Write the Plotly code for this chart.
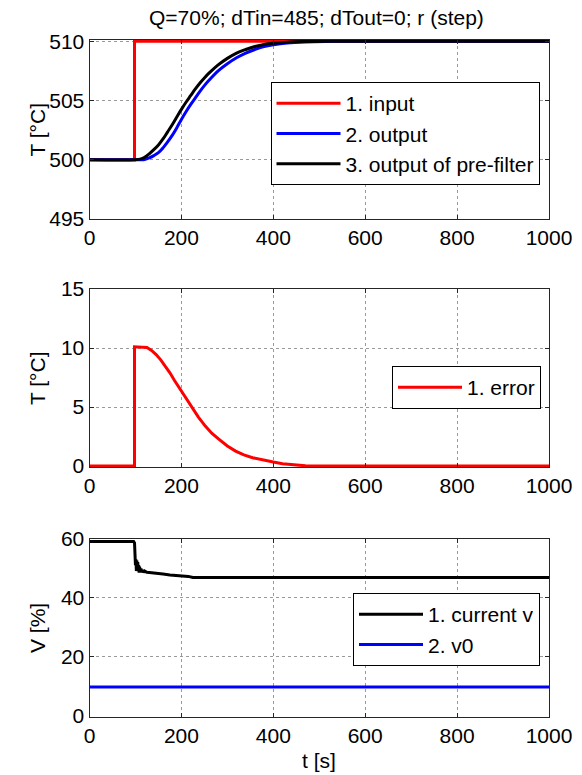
import plotly.graph_objects as go

# ---------------- data ----------------
t_input = [0, 97.9, 98, 1000]
T_input = [500, 500, 510, 510]

t_out = [0, 110, 120, 130, 140, 150, 160, 170, 180, 190, 200, 210, 220, 230, 240, 250, 260,
         280, 300, 320, 340, 360, 380, 400, 430, 470, 520, 600, 1000]
T_out = [500, 500, 500.02, 500.15, 500.35, 500.6, 501.0, 501.5, 502.05, 502.7, 503.4, 504.05,
         504.65, 505.2, 505.75, 506.25, 506.7, 507.5, 508.1, 508.6, 509.0, 509.3, 509.55, 509.7,
         509.85, 509.94, 509.98, 510, 510]

t_pre = [0, 100, 110, 120, 130, 140, 150, 160, 170, 180, 190, 200, 210, 220, 230, 240, 250,
         260, 280, 300, 320, 340, 360, 380, 400, 430, 470, 520, 1000]
T_pre = [500, 500, 500.05, 500.2, 500.5, 500.85, 501.25, 501.75, 502.35, 502.95, 503.6, 504.25,
         504.85, 505.4, 505.95, 506.45, 506.9, 507.3, 508.0, 508.55, 509.0, 509.3, 509.55, 509.72,
         509.82, 509.92, 509.97, 510, 510]

t_err = [0, 97.9, 98, 110, 125, 135, 145, 155, 165, 175, 185, 200, 212, 223, 237, 252, 266,
         282, 300, 318, 336, 355, 378, 400, 420, 442, 470, 1000]
e_err = [0, 0, 10.1, 10.1, 10.05, 9.8, 9.45, 9.0, 8.47, 7.9, 7.25, 6.36, 5.6, 4.95, 4.15, 3.39,
         2.78, 2.26, 1.7, 1.27, 0.95, 0.71, 0.5, 0.34, 0.2, 0.1, 0.02, 0]

t_v = [0, 96, 98, 99, 100, 101, 102, 103, 104, 105, 106, 107, 108, 109, 110, 112, 114, 116, 118,
       120, 125, 130, 140, 150, 160, 175, 190, 205, 215, 225, 1000]
v_cur = [59, 59, 58.5, 56, 51, 53, 49, 52.5, 49.5, 52, 49, 51, 48.5, 50.5, 48.8, 49.8, 48.6, 49.4,
         48.5, 49, 48.6, 48.5, 48.4, 48.2, 48.0, 47.7, 47.5, 47.4, 47.2, 46.8, 46.8]

t_v0 = [0, 1000]
v0 = [9.8, 9.8]

title_text = "Q=70%; dTin=485; dTout=0; r (step)"
x_ticks = [0, 200, 400, 600, 800, 1000]

# ---------------- figure ----------------
W, H = 582, 775
FONT = "Liberation Sans, Arial, sans-serif"
FS = 21

fig = go.Figure()
fig.add_trace(go.Scatter(x=t_input, y=T_input, mode="lines", name="1. input",
                         line=dict(color="#ff0000", width=3), xaxis="x", yaxis="y", legend="legend"))
fig.add_trace(go.Scatter(x=t_out, y=T_out, mode="lines", name="2. output", line_shape="spline",
                         line=dict(color="#0000ff", width=3), xaxis="x", yaxis="y", legend="legend"))
fig.add_trace(go.Scatter(x=t_pre, y=T_pre, mode="lines", name="3. output of pre-filter", line_shape="spline",
                         line=dict(color="#000000", width=3), xaxis="x", yaxis="y", legend="legend"))
fig.add_trace(go.Scatter(x=t_err, y=e_err, mode="lines", name="1. error",
                         line=dict(color="#ff0000", width=3), xaxis="x2", yaxis="y2", legend="legend2"))
fig.add_trace(go.Scatter(x=t_v, y=v_cur, mode="lines", name="1. current v",
                         line=dict(color="#000000", width=3), xaxis="x3", yaxis="y3", legend="legend3"))
fig.add_trace(go.Scatter(x=t_v0, y=v0, mode="lines", name="2. v0",
                         line=dict(color="#0000ff", width=3), xaxis="x3", yaxis="y3", legend="legend3"))

xdom = [89.5 / W, 549 / W]


def ydom(top_px, bot_px):
    return [1 - bot_px / H, 1 - top_px / H]


axis_common = dict(showgrid=True, gridcolor="#9a9a9a", griddash="dot", gridwidth=1,
                   showline=True, linecolor="#262626", linewidth=1, mirror="ticks",
                   ticks="inside", ticklen=4, tickcolor="#262626", zeroline=False,
                   automargin=False,
                   tickfont=dict(family=FONT, size=FS, color="#000"))

xax = dict(axis_common, range=[0, 1000], tickvals=x_ticks, domain=xdom)


def label(text, xpx, ypx, angle=0):
    return dict(text=text, x=xpx / W, y=1 - ypx / H, xref="paper", yref="paper",
                xanchor="center", yanchor="middle", showarrow=False,
                textangle=angle, font=dict(size=FS))


fig.update_layout(
    width=W, height=H,
    margin=dict(l=0, r=0, t=0, b=0, autoexpand=False),
    paper_bgcolor="white", plot_bgcolor="white",
    font=dict(family=FONT, size=FS, color="#000"),
    xaxis=dict(xax, anchor="y"),
    yaxis=dict(axis_common, range=[495, 510.1], tickvals=[495, 500, 505, 510],
               domain=ydom(40, 219), anchor="x"),
    xaxis2=dict(xax, anchor="y2"),
    yaxis2=dict(axis_common, range=[-0.08, 15], tickvals=[0, 5, 10, 15],
                domain=ydom(289, 467), anchor="x2"),
    xaxis3=dict(xax, anchor="y3"),
    yaxis3=dict(axis_common, range=[-0.3, 60], tickvals=[0, 20, 40, 60],
                domain=ydom(538.5, 717), anchor="x3"),
    legend=dict(x=539.5 / W, y=1 - 82 / H, xanchor="right", yanchor="top",
                bgcolor="white", bordercolor="#000", borderwidth=1,
                font=dict(family=FONT, size=FS), itemwidth=64, tracegroupgap=0),
    legend2=dict(x=541 / W, y=1 - 366 / H, xanchor="right", yanchor="top",
                 bgcolor="white", bordercolor="#000", borderwidth=1,
                 font=dict(family=FONT, size=FS), itemwidth=64),
    legend3=dict(x=540 / W, y=1 - 593 / H, xanchor="right", yanchor="top",
                 bgcolor="white", bordercolor="#000", borderwidth=1,
                 font=dict(family=FONT, size=FS), itemwidth=64),
    annotations=[
        label(title_text, 316, 17),
        label("T [°C]", 37, 129.5, -90),
        label("T [°C]", 37, 378, -90),
        label("V [%]", 37, 628, -90),
        label("t [s]", 319, 760),
    ],
)

fig.write_html("out.html", config={"displayModeBar": False},
               post_script="document.body.style.margin='0';document.body.style.overflow='hidden';")
